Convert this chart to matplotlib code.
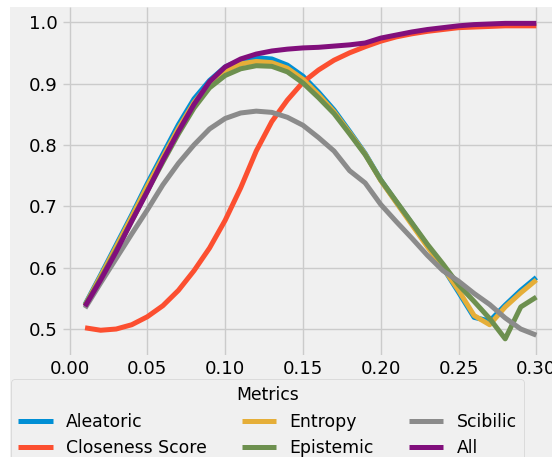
import numpy as np
import matplotlib
matplotlib.use('Agg')
from matplotlib import pyplot as plt
from matplotlib.patches import Rectangle

thresholds = [round(0.01 * i, 2) for i in range(1, 31)]

aleatoric = [0.540, 0.588, 0.637, 0.686, 0.737, 0.785, 0.833, 0.875, 0.905, 0.927,
             0.938, 0.942, 0.940, 0.930, 0.912, 0.886, 0.857, 0.822, 0.786, 0.743,
             0.707, 0.672, 0.636, 0.600, 0.560, 0.519, 0.513, 0.539, 0.563, 0.584]
closeness = [0.502, 0.498, 0.500, 0.507, 0.520, 0.538, 0.563, 0.595, 0.632, 0.677,
             0.730, 0.790, 0.838, 0.873, 0.902, 0.922, 0.938, 0.950, 0.960, 0.969,
             0.976, 0.981, 0.985, 0.988, 0.991, 0.992, 0.993, 0.994, 0.994, 0.994]
entropy = [0.539, 0.586, 0.634, 0.683, 0.733, 0.780, 0.827, 0.869, 0.900, 0.921,
           0.932, 0.936, 0.934, 0.925, 0.907, 0.882, 0.854, 0.820, 0.785, 0.742,
           0.706, 0.670, 0.634, 0.600, 0.563, 0.522, 0.507, 0.536, 0.559, 0.580]
epistemic = [0.538, 0.582, 0.628, 0.676, 0.725, 0.772, 0.818, 0.860, 0.893, 0.913,
             0.924, 0.929, 0.928, 0.919, 0.901, 0.877, 0.851, 0.818, 0.784, 0.743,
             0.708, 0.673, 0.638, 0.606, 0.572, 0.545, 0.517, 0.484, 0.536, 0.552]
scibilic = [0.534, 0.575, 0.615, 0.655, 0.694, 0.735, 0.770, 0.800, 0.826, 0.843,
            0.852, 0.855, 0.853, 0.845, 0.832, 0.812, 0.790, 0.758, 0.738, 0.703,
            0.675, 0.648, 0.620, 0.595, 0.578, 0.558, 0.540, 0.518, 0.500, 0.490]
all_metrics = [0.537, 0.580, 0.626, 0.676, 0.724, 0.775, 0.822, 0.866, 0.903, 0.927,
               0.940, 0.948, 0.953, 0.956, 0.958, 0.959, 0.961, 0.963, 0.966, 0.974,
               0.979, 0.984, 0.988, 0.991, 0.994, 0.996, 0.997, 0.998, 0.998, 0.998]

series = [
    ('Aleatoric', aleatoric, '#008fd5'),
    ('Closeness Score', closeness, '#fc4f30'),
    ('Entropy', entropy, '#e5ae38'),
    ('Epistemic', epistemic, '#6d904f'),
    ('Scibilic', scibilic, '#8b8b8b'),
    ('All', all_metrics, '#810f7c'),
]

plt.style.use('fivethirtyeight')
plt.rcParams['font.size'] = 13.1

fig = plt.figure(figsize=(5.52, 4.57), dpi=100, facecolor='white')
# grey background like the original, leaving a thin white strip top/left
bg = Rectangle((10 / 552, 0), 1, 1 - 7 / 457, transform=fig.transFigure,
               facecolor='#f0f0f0', edgecolor='none', zorder=-10)
fig.patches.append(bg)

ax = fig.add_axes([62.5 / 552, 1 - 354.8 / 457, 496.4 / 552, 348 / 457])
ax.set_facecolor('#f0f0f0')

for name, vals, col in series:
    ax.plot(thresholds, vals, label=name, color=col, linewidth=3.6)

ax.set_xlim(-0.0045, 0.3145)
ax.set_ylim(0.458, 1.025)
ax.set_xticks(np.arange(0, 0.31, 0.05))
ax.set_yticks([0.5, 0.6, 0.7, 0.8, 0.9, 1.0])
ax.tick_params(labelsize=13.1)
ax.grid(True, color='#cbcbcb', linewidth=1)
for s in ax.spines.values():
    s.set_visible(False)

leg = ax.legend(title='Metrics', ncol=3, loc='upper center',
                bbox_to_anchor=(267.5 / 552, 1 - 379.3 / 457),
                bbox_transform=fig.transFigure, borderaxespad=0,
                fontsize=12.4, title_fontsize=12.4, fancybox=True,
                facecolor='#f0f0f0', edgecolor='#cccccc', framealpha=0.8)

fig.savefig('out.png', dpi=100, facecolor='white')
